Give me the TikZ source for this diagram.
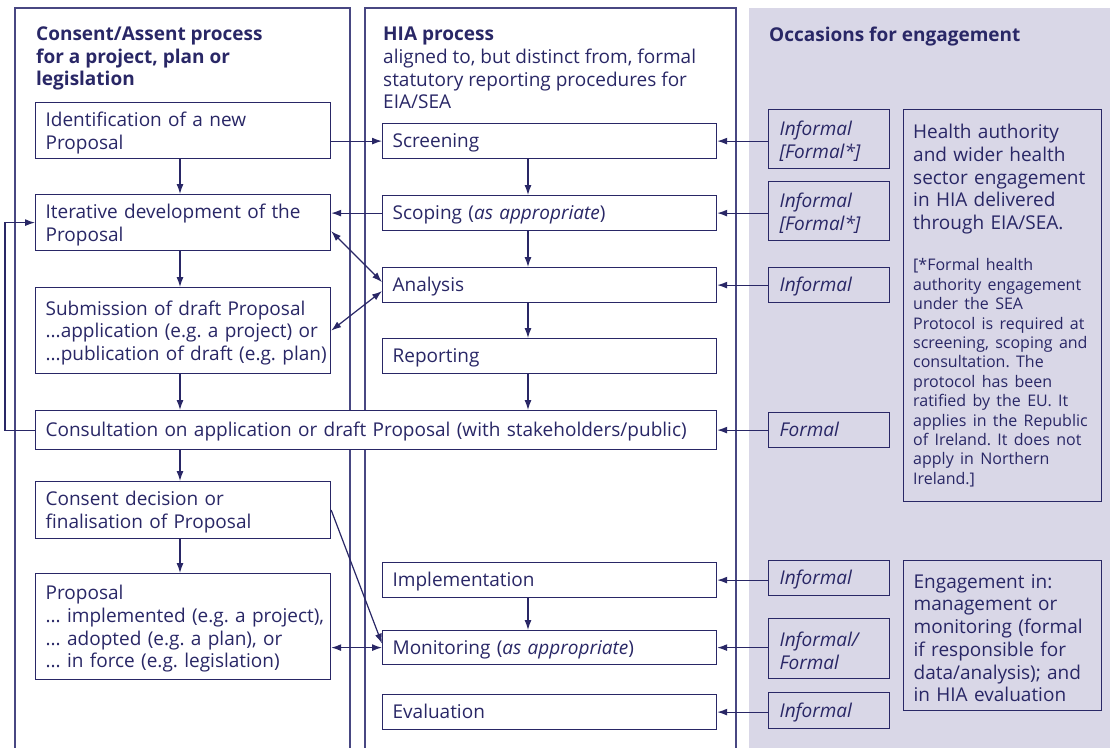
\documentclass[tikz,border=0pt]{standalone}
\usepackage{fontspec}
\setmainfont{Open Sans}
\usetikzlibrary{arrows.meta}
\definecolor{navy}{RGB}{41,39,102}
\definecolor{framecol}{RGB}{72,71,130}
\definecolor{panelbg}{RGB}{217,215,231}
\frenchspacing
% strut that fixes the height of the first line in every box
\newcommand{\firstlinestrut}{\rule[-6pt]{0pt}{25pt}}

\begin{document}
\begin{tikzpicture}[x=1pt,y=-1pt,
  every node/.style={text=navy, font=\fontsize{19}{22.7}\selectfont},
  box/.style={draw=navy, fill=white, line width=1.2pt, anchor=north west, align=left,
    inner xsep=10pt, inner ysep=0pt, execute at begin node={\firstlinestrut}},
  lbox/.style={box, inner xsep=0pt, text width=295pt,
    execute at begin node={\leftskip=10pt\relax\firstlinestrut}},
  mbox/.style={box, text width=314pt},
  sbox/.style={box, fill=none, text width=99pt, inner xsep=11pt,
    font=\fontsize{19}{22.7}\selectfont\itshape},
  bbox/.style={box, fill=none, text width=178pt},
  arr/.style={draw=navy, line width=1.2pt, -{Latex[length=10pt,width=7pt]}},
  darr/.style={draw=navy, line width=1.2pt,
    {Latex[length=10pt,width=7pt]}-{Latex[length=10pt,width=7pt]}},
  panel/.style={draw=framecol, line width=1.2pt},
  heading/.style={anchor=north west, align=left, inner sep=0pt}
]
\clip (0,0) rectangle (1110,747);

% background of the engagement column and the two process frames
\fill[panelbg] (749,8) rectangle (1110,760);
\draw[panel] (15,760) -- (15,8) -- (350,8) -- (350,760);
\draw[panel] (365,760) -- (365,8) -- (736,8) -- (736,760);

% column headings
\node[heading, font=\fontsize{19}{22.5}\selectfont\bfseries] (ltitle) at (36,27)
  {Consent/Assent process\\for a project, plan or\\legislation};
\node[heading] (mtitle) at (383,27)
  {\textbf{HIA process}\\aligned to, but distinct from, formal\\statutory reporting procedures for\\EIA/SEA};
\node[heading, font=\fontsize{19}{22.5}\selectfont\bfseries] (rtitle) at (769,27)
  {Occasions for engagement};

% consent / assent process
\node[lbox, minimum height=56pt] (id) at (35,102) {Identification of a new\\Proposal};
\node[lbox, minimum height=56pt] (iter) at (35,194) {Iterative development of the\\Proposal};
\node[lbox, minimum height=86pt] (sub) at (35,287)
  {Submission of draft Proposal\\...application (e.g. a project) or\\...publication of draft (e.g. plan)};
\node[box, text width=661pt, minimum height=39pt] (cons) at (35,410)
  {Consultation on application or draft Proposal (with stakeholders/public)};
\node[lbox, minimum height=57pt] (dec) at (35,481) {Consent decision or\\finalisation of Proposal};
\node[lbox, minimum height=106pt] (prop) at (35,573)
  {Proposal\\... implemented (e.g. a project),\\... adopted (e.g. a plan), or\\... in force (e.g. legislation)};

% HIA process
\node[mbox, minimum height=35pt] (scr) at (382,123) {Screening};
\node[mbox, minimum height=35pt] (scp) at (382,195) {Scoping (\textit{as appropriate})};
\node[mbox, minimum height=35pt] (ana) at (382,267) {Analysis};
\node[mbox, minimum height=35pt] (rep) at (382,338) {Reporting};
\node[mbox, minimum height=35pt] (impl) at (382,562) {Implementation};
\node[mbox, minimum height=34pt] (mon) at (382,630) {Monitoring (\textit{as appropriate})};
\node[mbox, minimum height=35pt] (eva) at (382,694) {Evaluation};

% occasions for engagement
\node[sbox, minimum height=59pt] (e1) at (768,109) {Informal\\{[}Formal*{]}};
\node[sbox, minimum height=59pt] (e2) at (768,181) {Informal\\{[}Formal*{]}};
\node[sbox, minimum height=35pt] (e3) at (768,267) {Informal};
\node[sbox, minimum height=35pt] (e4) at (768,412) {Formal};
\node[sbox, minimum height=35pt] (e5) at (768,560) {Informal};
\node[sbox, minimum height=60pt] (e6) at (768,618) {Informal/\\Formal};
\node[sbox, minimum height=36pt] (e7) at (768,692) {Informal};

\node[bbox, minimum height=392pt] (hb) at (903,109) {};
\node[heading, text width=186pt] (hbt) at (913,124)
  {Health authority\\and wider health\\sector engagement\\in HIA delivered\\through EIA/SEA.\par
   \vspace{22pt}{\fontsize{16}{19.4}\selectfont [*Formal health\\authority engagement\\under the SEA\\Protocol is required at\\screening, scoping and\\consultation. The\\protocol has been\\ratified by the EU. It\\applies in the Republic\\of Ireland. It does not\\apply in Northern\\Ireland.]\par}};
\node[bbox, minimum height=150pt] (eb) at (903,560)
  {Engagement in:\\management or\\monitoring (formal\\if responsible for\\data/analysis); and\\in HIA evaluation};

% vertical flow guides
\coordinate (lx) at (180,0);
\coordinate (mx) at (528,0);

% consent / assent flow
\draw[arr] (id.south -| lx) -- (iter.north -| lx);
\draw[arr] (iter.south -| lx) -- (sub.north -| lx);
\draw[arr] (sub.south -| lx) -- (cons.north -| lx);
\draw[arr] (cons.south -| lx) -- (dec.north -| lx);
\draw[arr] (dec.south -| lx) -- (prop.north -| lx);
\draw[arr] (cons.west) -- ++(-30,0) |- (iter.west);

% HIA flow
\draw[arr] (scr.south -| mx) -- (scp.north -| mx);
\draw[arr] (scp.south -| mx) -- (ana.north -| mx);
\draw[arr] (ana.south -| mx) -- (rep.north -| mx);
\draw[arr] (rep.south -| mx) -- (cons.north -| mx);
\draw[arr] (impl.south -| mx) -- (mon.north -| mx);

% links between the two processes
\draw[arr] (scr.west -| id.east) -- (scr.west);
\draw[arr] (scp.west) -- (scp.west -| iter.east);
\draw[darr] ([yshift=20pt]iter.south east) -- ([yshift=3pt]ana.west);
\draw[darr] ([yshift=-6pt]ana.west) -- (sub.east);
\draw[arr] (dec.east) -- ([yshift=4pt]mon.west);
\draw[darr] (mon.west -| prop.east) -- (mon.west);

% engagement inputs
\draw[arr] (scr.east -| e1.west) -- (scr.east);
\draw[arr] (scp.east -| e2.west) -- (scp.east);
\draw[arr] (ana.east -| e3.west) -- (ana.east);
\draw[arr] (cons.east -| e4.west) -- (cons.east);
\draw[arr] (impl.east -| e5.west) -- (impl.east);
\draw[arr] (mon.east -| e6.west) -- (mon.east);
\draw[arr] (eva.east -| e7.west) -- (eva.east);
\end{tikzpicture}
\end{document}
